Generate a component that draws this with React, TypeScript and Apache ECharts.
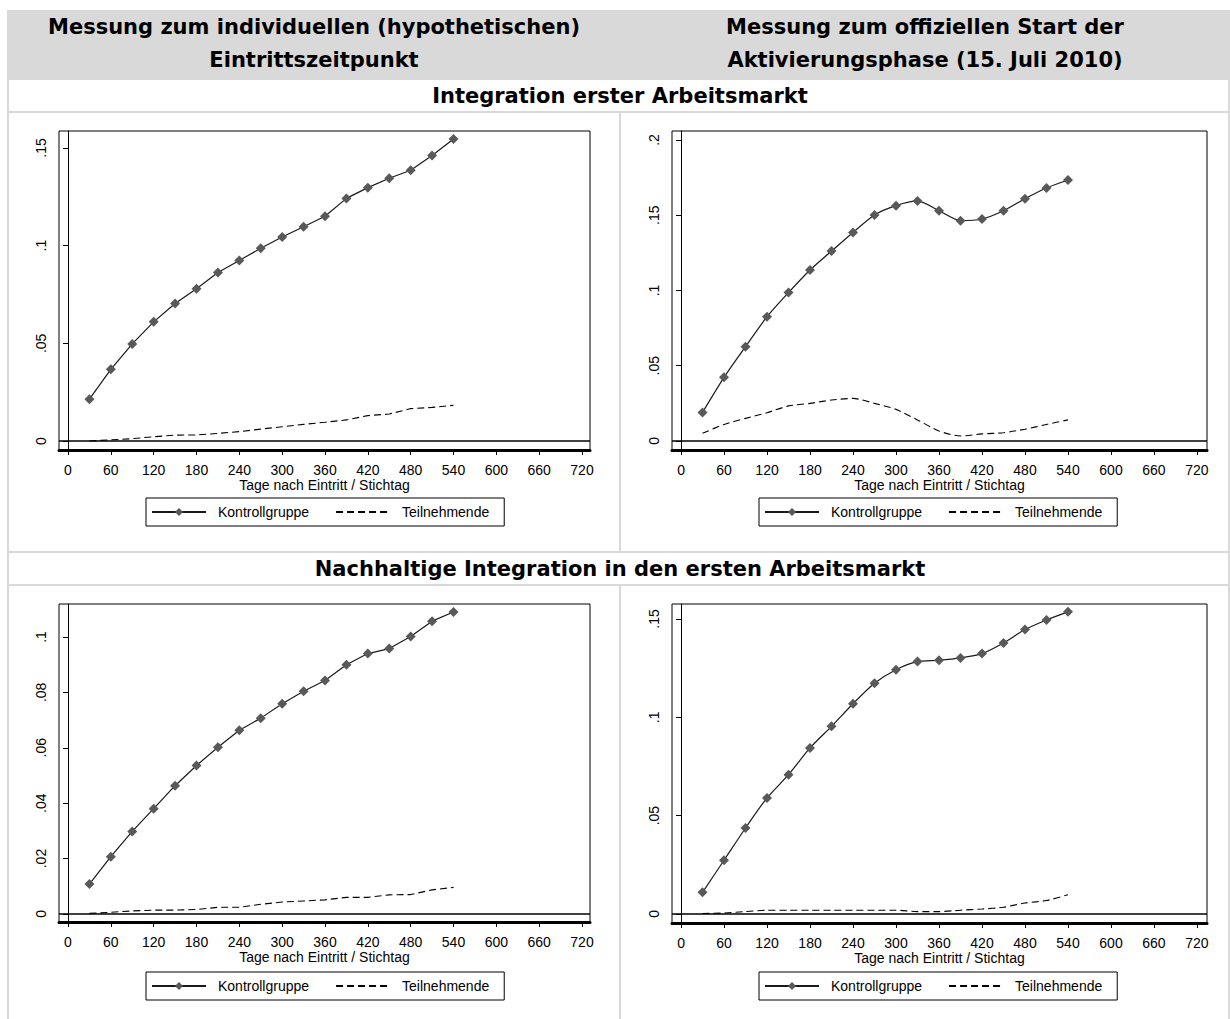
import React, { useEffect, useRef } from "react";
import * as echarts from "echarts";

// Days after entry / reference date
const DAYS = [30, 60, 90, 120, 150, 180, 210, 240, 270, 300, 330, 360, 390, 420, 450, 480, 510, 540];
const X_TICKS = [0, 60, 120, 180, 240, 300, 360, 420, 480, 540, 600, 660, 720];

// Integration erster Arbeitsmarkt – individueller Eintrittszeitpunkt
const tlKontroll = [0.0214, 0.0367, 0.0497, 0.0610, 0.0704, 0.0779, 0.0863, 0.0924, 0.0987, 0.1044, 0.1097, 0.1151, 0.1242, 0.1297, 0.1345, 0.1386, 0.1462, 0.1546];
const tlTeil = [0.0000, 0.0006, 0.0012, 0.0022, 0.0030, 0.0031, 0.0039, 0.0048, 0.0061, 0.0073, 0.0085, 0.0096, 0.0108, 0.0130, 0.0138, 0.0166, 0.0172, 0.0183];
// Integration erster Arbeitsmarkt – offizieller Start
const trKontroll = [0.0190, 0.0423, 0.0627, 0.0826, 0.0986, 0.1136, 0.1262, 0.1386, 0.1502, 0.1564, 0.1595, 0.1530, 0.1464, 0.1475, 0.1530, 0.1610, 0.1681, 0.1734];
const trTeil = [0.0051, 0.0110, 0.0150, 0.0188, 0.0233, 0.0250, 0.0272, 0.0283, 0.0250, 0.0210, 0.0140, 0.0066, 0.0033, 0.0047, 0.0055, 0.0078, 0.0110, 0.0140];
// Nachhaltige Integration – individueller Eintrittszeitpunkt
const blKontroll = [0.0108, 0.0207, 0.0298, 0.0380, 0.0463, 0.0536, 0.0602, 0.0663, 0.0707, 0.0759, 0.0804, 0.0843, 0.0900, 0.0940, 0.0958, 0.1002, 0.1057, 0.1090];
const blTeil = [0.0002, 0.0006, 0.0011, 0.0014, 0.0014, 0.0016, 0.0024, 0.0024, 0.0035, 0.0043, 0.0047, 0.0051, 0.0060, 0.0060, 0.0069, 0.0070, 0.0087, 0.0096];
// Nachhaltige Integration – offizieller Start
const brKontroll = [0.0110, 0.0273, 0.0437, 0.0590, 0.0708, 0.0844, 0.0954, 0.1069, 0.1173, 0.1242, 0.1283, 0.1290, 0.1302, 0.1324, 0.1378, 0.1446, 0.1495, 0.1536];
const brTeil = [0.0002, 0.0005, 0.0012, 0.0019, 0.0019, 0.0019, 0.0019, 0.0019, 0.0019, 0.0019, 0.0012, 0.0012, 0.0019, 0.0025, 0.0034, 0.0056, 0.0068, 0.0098];

const Y_TICKS_TL = [0, 0.05, 0.1, 0.15];
const Y_TICKS_TR = [0, 0.05, 0.1, 0.15, 0.2];
const Y_TICKS_BL = [0, 0.02, 0.04, 0.06, 0.08, 0.1];
const Y_TICKS_BR = [0, 0.05, 0.1, 0.15];

const HEAD_LEFT = ["Messung zum individuellen (hypothetischen)", "Eintrittszeitpunkt"];
const HEAD_RIGHT = ["Messung zum offiziellen Start der", "Aktivierungsphase (15. Juli 2010)"];
const ROW1 = "Integration erster Arbeitsmarkt";
const ROW2 = "Nachhaltige Integration in den ersten Arbeitsmarkt";
const X_TITLE = "Tage nach Eintritt / Stichtag";
const S_K = "Kontrollgruppe";
const S_T = "Teilnehmende";

const AX_FONT = "'Liberation Sans', Arial, sans-serif";
const HD_FONT = "'DejaVu Sans', Verdana, sans-serif";
const GRAY = "#d9d9d9";

const panels = [
  { k: tlKontroll, t: tlTeil, yt: Y_TICKS_TL, left: 59, top: 131, width: 531, height: 319, xmin: -12.6, xmax: 731.2, ymin: -0.0046, ymax: 0.1587, smooth: false, legL: 146, legT: 498 },
  { k: trKontroll, t: trTeil, yt: Y_TICKS_TR, left: 672, top: 131, width: 535, height: 319, xmin: -12.6, xmax: 734, ymin: -0.006, ymax: 0.206, smooth: 0.25, legL: 759, legT: 498 },
  { k: blKontroll, t: blTeil, yt: Y_TICKS_BL, left: 59, top: 604, width: 531, height: 318, xmin: -12.6, xmax: 731.2, ymin: -0.0029, ymax: 0.1119, smooth: false, legL: 146, legT: 972 },
  { k: brKontroll, t: brTeil, yt: Y_TICKS_BR, left: 672, top: 604, width: 535, height: 319, xmin: -12.6, xmax: 734, ymin: -0.0046, ymax: 0.1576, smooth: 0.25, legL: 759, legT: 972 },
];

const fmtY = (v: number) => (v === 0 ? "0" : String(+v.toFixed(4)).replace(/^0\./, "."));

function buildOption() {
  const grid: any[] = [];
  const xAxis: any[] = [];
  const yAxis: any[] = [];
  const series: any[] = [];
  const legend: any[] = [];

  panels.forEach((p, i) => {
    grid.push({ left: p.left, top: p.top, width: p.width, height: p.height, show: true, borderColor: "#000", borderWidth: 1, backgroundColor: "#fff" });
    xAxis.push({
      type: "value", gridIndex: i, min: p.xmin, max: p.xmax,
      axisLine: { show: true, onZero: false, lineStyle: { color: "#000", width: 3 } },
      axisTick: { show: true, customValues: X_TICKS, length: 5, lineStyle: { color: "#000", width: 1 } },
      axisLabel: { show: true, customValues: X_TICKS, margin: 13, fontSize: 14, fontFamily: AX_FONT, color: "#000" },
      splitLine: { show: false },
      name: X_TITLE, nameLocation: "middle", nameGap: 20,
      nameTextStyle: { fontSize: 14, fontFamily: AX_FONT, color: "#000" },
    });
    yAxis.push({
      type: "value", gridIndex: i, min: p.ymin, max: p.ymax,
      axisLine: { show: true, lineStyle: { color: "#000", width: 1 } },
      axisTick: { show: true, customValues: p.yt, length: 5, lineStyle: { color: "#000", width: 1 } },
      axisLabel: { show: true, customValues: p.yt, rotate: 90, margin: 11, fontSize: 14, fontFamily: AX_FONT, color: "#000", formatter: fmtY },
      splitLine: { show: false },
    });
    series.push({
      name: S_K, type: "line", xAxisIndex: i, yAxisIndex: i,
      data: DAYS.map((d, j) => [d, p.k[j]]),
      smooth: p.smooth, symbol: "diamond", symbolSize: 10,
      lineStyle: { color: "#1a1a1a", width: 1.2 },
      itemStyle: { color: "#595959" },
      z: 3,
      markLine: {
        silent: true, symbol: "none", label: { show: false },
        lineStyle: { color: "#000", width: 1.5, type: "solid" },
        data: [{ yAxis: 0 }],
      },
    });
    series.push({
      name: S_T, type: "line", xAxisIndex: i, yAxisIndex: i,
      data: DAYS.map((d, j) => [d, p.t[j]]),
      smooth: p.smooth, symbol: "none", showSymbol: false,
      lineStyle: { color: "#000", width: 1.1, type: [7, 4], opacity: 1 },
      itemStyle: { color: "#000", opacity: 0 },
      z: 2,
    });
    legend.push({
      data: [S_K, S_T], left: p.legL, top: p.legT,
      padding: [7, 15, 7, 5], itemGap: 26, itemWidth: 54, itemHeight: 10,
      borderColor: "#000", borderWidth: 1, backgroundColor: "#fff", borderRadius: 0,
      selectedMode: false,
      textStyle: { fontSize: 14, fontFamily: AX_FONT, color: "#000", padding: [0, 0, 0, 7] },
    });
  });

  const hText = (txt: string, x: number, y: number) => ({
    type: "text", x, y, silent: true,
    style: { text: txt, fontFamily: HD_FONT, fontWeight: "bold", fontSize: 21, fill: "#000", textAlign: "center", textVerticalAlign: "middle" },
  });
  const hLine = (x1: number, y1: number, x2: number, y2: number) => ({
    type: "line", silent: true, shape: { x1, y1, x2, y2 }, style: { stroke: GRAY, lineWidth: 2 },
  });

  const graphic: any[] = [
    { type: "rect", silent: true, z: -10, shape: { x: 8, y: 10, width: 1222, height: 70 }, style: { fill: GRAY } },
    hLine(8, 112, 1230, 112),
    hLine(8, 552, 1230, 552),
    hLine(8, 585, 1230, 585),
    hLine(8, 10, 8, 1019),
    hLine(1229, 80, 1229, 1019),
    hLine(620, 112, 620, 552),
    hLine(620, 585, 620, 1019),
    hText(HEAD_LEFT[0], 314, 27),
    hText(HEAD_LEFT[1], 314, 60),
    hText(HEAD_RIGHT[0], 925, 27),
    hText(HEAD_RIGHT[1], 925, 60),
    hText(ROW1, 620, 96),
    hText(ROW2, 620, 569),
  ];

  return { animation: false, backgroundColor: "#fff", graphic, grid, xAxis, yAxis, series, legend };
}

export default function App() {
  const ref = useRef<HTMLDivElement>(null);
  useEffect(() => {
    if (!ref.current) return;
    const chart = echarts.init(ref.current, null, { renderer: "svg" });
    chart.setOption(buildOption() as any);
    return () => chart.dispose();
  }, []);
  return <div ref={ref} style={{ position: "absolute", left: 0, top: 0, width: 1230, height: 1019 }} />;
}
